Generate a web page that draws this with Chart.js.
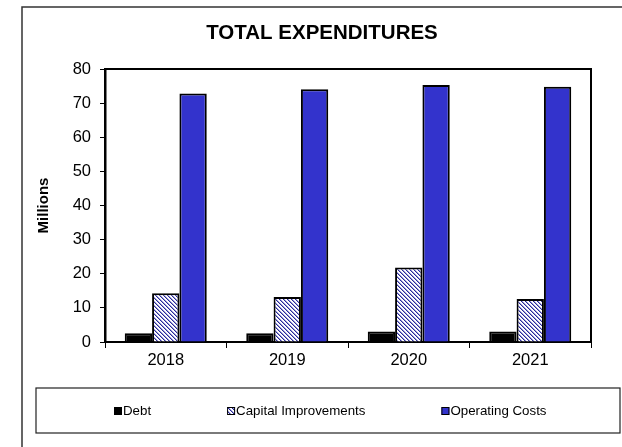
<!DOCTYPE html>
<html lang="en">
<head>
    <meta charset="UTF-8" />
    <title>Total Expenditures</title>
    <script src="https://cdn.jsdelivr.net/npm/chart.js"></script>
    <style>
        body { margin: 0; background: #fff; }
    </style>
</head>
<body>
    <canvas id="expChart" width="622" height="447"></canvas>

    <script>
        // Yearly spending, in millions
        const years = ['2018', '2019', '2020', '2021'];
        const debt = [2.6, 2.6, 3.1, 3.1];
        const capitalImprovements = [14.3, 13.2, 21.8, 12.6];
        const operatingCosts = [72.8, 74.1, 75.3, 74.8];
        const seriesNames = ['Debt', 'Capital Improvements', 'Operating Costs'];

        const FONT = 'Arial, "Liberation Sans", sans-serif';

        // Diagonal hatch used for the capital bars
        function makeHatch() {
            const c = document.createElement('canvas');
            c.width = 4;
            c.height = 4;
            const g = c.getContext('2d');
            g.fillStyle = '#ffffff';
            g.fillRect(0, 0, 4, 4);
            for (let i = 0; i < 4; i++) {
                g.fillStyle = '#2b2b99';
                g.fillRect(i, i, 1, 1);
                g.fillStyle = '#9a9ad6';
                g.fillRect((i + 1) % 4, i, 1, 1);
            }
            return g.createPattern(c, 'repeat');
        }
        const hatch = makeHatch();

        // Frame, title, plot border and boxed legend
        const decorations = {
            id: 'decorations',
            beforeDraw(chart) {
                const ctx = chart.ctx;
                ctx.save();
                ctx.fillStyle = '#fff';
                ctx.fillRect(0, 0, chart.width, chart.height);

                // outer frame (runs off the right and bottom)
                ctx.strokeStyle = '#333';
                ctx.lineWidth = 1.5;
                ctx.beginPath();
                ctx.moveTo(22, chart.height + 2);
                ctx.lineTo(22, 7);
                ctx.lineTo(chart.width + 2, 7);
                ctx.stroke();

                ctx.fillStyle = '#000';
                ctx.font = 'bold 20.5px ' + FONT;
                ctx.textAlign = 'center';
                ctx.textBaseline = 'middle';
                ctx.fillText('TOTAL EXPENDITURES', 322, 33);
                ctx.restore();
            },
            afterDraw(chart) {
                const ctx = chart.ctx;
                const a = chart.chartArea;
                ctx.save();
                ctx.strokeStyle = '#000';
                ctx.lineWidth = 2;
                ctx.beginPath();
                ctx.moveTo(a.left, a.top);
                ctx.lineTo(a.right, a.top);
                ctx.lineTo(a.right, a.bottom);
                ctx.stroke();

                // legend box
                ctx.lineWidth = 1.2;
                ctx.strokeStyle = '#222';
                ctx.strokeRect(36, 388, 584, 45);

                ctx.font = '13.3px ' + FONT;
                ctx.textBaseline = 'middle';
                ctx.textAlign = 'left';
                let x = 114;
                const y = 411;
                chart.data.datasets.forEach(ds => {
                    ctx.fillStyle = ds.backgroundColor;
                    ctx.fillRect(x, y - 4, 8, 8);
                    ctx.lineWidth = 1;
                    ctx.strokeStyle = '#000';
                    ctx.strokeRect(x + 0.5, y - 3.5, 7, 7);
                    ctx.fillStyle = '#000';
                    ctx.fillText(ds.label, x + 9, y);
                    x += 9 + ctx.measureText(ds.label).width + 76;
                });
                ctx.restore();
            }
        };

        const barStyle = {
            borderColor: '#000',
            borderWidth: 2,
            barPercentage: 1,
            categoryPercentage: 0.675
        };

        new Chart(document.getElementById('expChart'), {
            type: 'bar',
            data: {
                labels: years,
                datasets: [
                    { label: seriesNames[0], data: debt, backgroundColor: '#000', ...barStyle },
                    { label: seriesNames[1], data: capitalImprovements, backgroundColor: hatch, ...barStyle },
                    { label: seriesNames[2], data: operatingCosts, backgroundColor: '#3333cc', ...barStyle }
                ]
            },
            options: {
                responsive: false,
                animation: false,
                layout: { padding: { left: 22, right: 31, top: 69, bottom: 75 } },
                plugins: {
                    legend: { display: false },
                    title: { display: false },
                    tooltip: { enabled: false }
                },
                scales: {
                    x: {
                        grid: { offset: true, drawOnChartArea: false, tickLength: 6, color: '#000', lineWidth: 1 },
                        border: { color: '#000', width: 2 },
                        ticks: { color: '#000', font: { family: FONT, size: 16.5 }, padding: 3 },
                        afterFit(s) { s.height = 30; }
                    },
                    y: {
                        min: 0,
                        max: 80,
                        ticks: { stepSize: 10, color: '#000', font: { family: FONT, size: 16.5 }, padding: 9 },
                        grid: { drawOnChartArea: false, tickLength: 5, color: '#000', lineWidth: 1 },
                        border: { color: '#000', width: 2.5 },
                        title: {
                            display: true,
                            text: 'Millions',
                            color: '#000',
                            font: { family: FONT, size: 15, weight: 'bold' },
                            padding: { top: 13, bottom: 0 }
                        },
                        afterFit(s) { s.width = 83; }
                    }
                }
            },
            plugins: [decorations]
        });
    </script>
</body>
</html>
